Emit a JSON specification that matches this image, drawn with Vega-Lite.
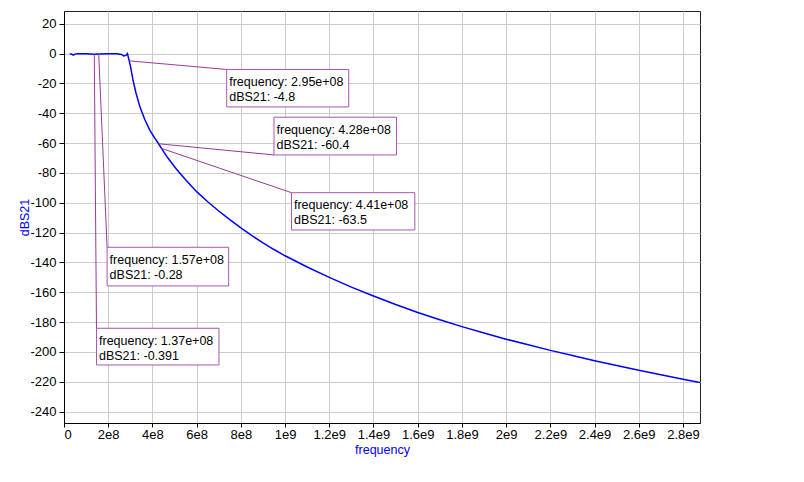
{
  "$schema": "https://vega.github.io/schema/vega-lite/v6.json",
  "width": 636,
  "height": 412,
  "autosize": {"type": "none"},
  "padding": {"left": 64, "top": 11, "right": 104, "bottom": 59},
  "background": "white",
  "config": {
    "font": "Liberation Sans",
    "view": {"stroke": "#222222", "strokeWidth": 1},
    "axis": {
      "labelFont": "Liberation Sans",
      "titleFont": "Liberation Sans",
      "labelFontSize": 13,
      "titleFontSize": 12.5,
      "titleFontWeight": "normal",
      "labelColor": "#000000",
      "titleColor": "#0000ff",
      "domainColor": "#000000",
      "tickColor": "#000000",
      "gridColor": "#cccccc",
      "gridOpacity": 1,
      "gridWidth": 1,
      "labelOverlap": false
    }
  },
  "datasets": {
    "curve": [
      {"frequency": 2.6e7, "dBS21": 0},
      {"frequency": 3.5e7, "dBS21": -0.3},
      {"frequency": 4.2e7, "dBS21": -1.0},
      {"frequency": 5.0e7, "dBS21": -0.3},
      {"frequency": 6.0e7, "dBS21": 0},
      {"frequency": 1.0e8, "dBS21": 0},
      {"frequency": 1.37e8, "dBS21": -0.391},
      {"frequency": 1.57e8, "dBS21": -0.28},
      {"frequency": 2.0e8, "dBS21": 0},
      {"frequency": 2.4e8, "dBS21": 0},
      {"frequency": 2.6e8, "dBS21": -0.5},
      {"frequency": 2.7e8, "dBS21": -1.6},
      {"frequency": 2.8e8, "dBS21": -1.2},
      {"frequency": 2.87e8, "dBS21": 0},
      {"frequency": 2.95e8, "dBS21": -4.8},
      {"frequency": 3.0e8, "dBS21": -8},
      {"frequency": 3.12e8, "dBS21": -17.6},
      {"frequency": 3.25e8, "dBS21": -26},
      {"frequency": 3.43e8, "dBS21": -35.5},
      {"frequency": 3.65e8, "dBS21": -44},
      {"frequency": 3.88e8, "dBS21": -51.2},
      {"frequency": 4.1e8, "dBS21": -56.5},
      {"frequency": 4.28e8, "dBS21": -60.4},
      {"frequency": 4.41e8, "dBS21": -63.5},
      {"frequency": 4.7e8, "dBS21": -70},
      {"frequency": 5.09e8, "dBS21": -77.5},
      {"frequency": 5.5e8, "dBS21": -84.5},
      {"frequency": 6.0e8, "dBS21": -92.5},
      {"frequency": 6.5e8, "dBS21": -99.3},
      {"frequency": 7.0e8, "dBS21": -105.5},
      {"frequency": 7.5e8, "dBS21": -111.3},
      {"frequency": 8.0e8, "dBS21": -116.8},
      {"frequency": 8.5e8, "dBS21": -122},
      {"frequency": 9.0e8, "dBS21": -126.8},
      {"frequency": 9.5e8, "dBS21": -131.3},
      {"frequency": 1.0e9, "dBS21": -135.5},
      {"frequency": 1.1e9, "dBS21": -143},
      {"frequency": 1.2e9, "dBS21": -150},
      {"frequency": 1.3e9, "dBS21": -156.5},
      {"frequency": 1.4e9, "dBS21": -162.5},
      {"frequency": 1.5e9, "dBS21": -168.2},
      {"frequency": 1.6e9, "dBS21": -173.5},
      {"frequency": 1.7e9, "dBS21": -178.4},
      {"frequency": 1.8e9, "dBS21": -183},
      {"frequency": 1.9e9, "dBS21": -187.3},
      {"frequency": 2.0e9, "dBS21": -191.4},
      {"frequency": 2.1e9, "dBS21": -195.2},
      {"frequency": 2.2e9, "dBS21": -198.9},
      {"frequency": 2.3e9, "dBS21": -202.4},
      {"frequency": 2.4e9, "dBS21": -205.8},
      {"frequency": 2.5e9, "dBS21": -209.1},
      {"frequency": 2.6e9, "dBS21": -212.3},
      {"frequency": 2.7e9, "dBS21": -215.3},
      {"frequency": 2.8e9, "dBS21": -218.3},
      {"frequency": 2.877e9, "dBS21": -220.5}
    ],
    "notes": [
      {"f": 2.95e8, "v": -4.8, "lx": 7.36e8, "ly": -10.6, "bx1": 7.36e8, "bx2": 1.288e9, "by1": -10.6, "by2": -35.7, "l1": "frequency: 2.95e+08", "l2": "dBS21: -4.8"},
      {"f": 4.28e8, "v": -60.4, "lx": 9.50e8, "ly": -67.9, "bx1": 9.50e8, "bx2": 1.504e9, "by1": -42.6, "by2": -67.9, "l1": "frequency: 4.28e+08", "l2": "dBS21: -60.4"},
      {"f": 4.41e8, "v": -63.5, "lx": 1.029e9, "ly": -93.2, "bx1": 1.029e9, "bx2": 1.587e9, "by1": -93.2, "by2": -118.2, "l1": "frequency: 4.41e+08", "l2": "dBS21: -63.5"},
      {"f": 1.57e8, "v": -0.28, "lx": 1.95e8, "ly": -129.8, "bx1": 1.95e8, "bx2": 7.45e8, "by1": -129.8, "by2": -155.7, "l1": "frequency: 1.57e+08", "l2": "dBS21: -0.28"},
      {"f": 1.37e8, "v": -0.391, "lx": 1.47e8, "ly": -184.1, "bx1": 1.47e8, "bx2": 7.01e8, "by1": -184.1, "by2": -208.7, "l1": "frequency: 1.37e+08", "l2": "dBS21: -0.391"}
    ]
  },
  "layer": [
    {
      "data": {"name": "curve"},
      "mark": {"type": "line", "color": "#0000ff", "strokeWidth": 1.5, "clip": true},
      "encoding": {
        "x": {
          "field": "frequency", "type": "quantitative",
          "scale": {"domain": [0, 2.877e9], "nice": false, "zero": false},
          "axis": {
            "title": "frequency",
            "values": [0, 2e8, 4e8, 6e8, 8e8, 1e9, 1.2e9, 1.4e9, 1.6e9, 1.8e9, 2e9, 2.2e9, 2.4e9, 2.6e9, 2.8e9],
            "labelExpr": "datum.value == 0 ? '0' : (datum.value < 1e9 ? format(datum.value/1e8, 'd') + 'e8' : format(datum.value/1e9, '~g') + 'e9')",
            "labelOverlap": false, "tickSize": 4, "labelPadding": 1, "titlePadding": 2, "grid": true
          }
        },
        "y": {
          "field": "dBS21", "type": "quantitative",
          "scale": {"domain": [-247.6, 28.6], "nice": false, "zero": false},
          "axis": {
            "title": "dBS21",
            "values": [-240, -220, -200, -180, -160, -140, -120, -100, -80, -60, -40, -20, 0, 20],
            "labelExpr": "'' + datum.value",
            "labelOverlap": false, "tickSize": 5, "labelPadding": 3,
            "titleX": -40, "titleY": 206, "titleAngle": -90, "titleBaseline": "middle", "titleAlign": "center",
            "grid": true
          }
        },
        "order": {"field": "frequency", "type": "quantitative"}
      }
    },
    {
      "data": {"name": "notes"},
      "mark": {"type": "rule", "color": "#9a3a9a", "strokeWidth": 1},
      "encoding": {
        "x": {
          "field": "f", "type": "quantitative",
          "axis": {
            "title": "frequency",
            "values": [0, 2e8, 4e8, 6e8, 8e8, 1e9, 1.2e9, 1.4e9, 1.6e9, 1.8e9, 2e9, 2.2e9, 2.4e9, 2.6e9, 2.8e9],
            "labelExpr": "datum.value == 0 ? '0' : (datum.value < 1e9 ? format(datum.value/1e8, 'd') + 'e8' : format(datum.value/1e9, '~g') + 'e9')",
            "labelOverlap": false, "tickSize": 4, "labelPadding": 1, "titlePadding": 2, "grid": true
          }
        },
        "y": {
          "field": "v", "type": "quantitative",
          "axis": {
            "title": "dBS21",
            "values": [-240, -220, -200, -180, -160, -140, -120, -100, -80, -60, -40, -20, 0, 20],
            "labelExpr": "'' + datum.value",
            "labelOverlap": false, "tickSize": 5, "labelPadding": 3,
            "titleX": -40, "titleY": 206, "titleAngle": -90, "titleBaseline": "middle", "titleAlign": "center",
            "grid": true
          }
        },
        "x2": {"field": "lx"},
        "y2": {"field": "ly"}
      }
    },
    {
      "data": {"name": "notes"},
      "mark": {"type": "rect", "fill": "white", "stroke": "#a855b0", "strokeWidth": 1},
      "encoding": {
        "x": {
          "field": "bx1", "type": "quantitative",
          "axis": {
            "title": "frequency",
            "values": [0, 2e8, 4e8, 6e8, 8e8, 1e9, 1.2e9, 1.4e9, 1.6e9, 1.8e9, 2e9, 2.2e9, 2.4e9, 2.6e9, 2.8e9],
            "labelExpr": "datum.value == 0 ? '0' : (datum.value < 1e9 ? format(datum.value/1e8, 'd') + 'e8' : format(datum.value/1e9, '~g') + 'e9')",
            "labelOverlap": false, "tickSize": 4, "labelPadding": 1, "titlePadding": 2, "grid": true
          }
        },
        "x2": {"field": "bx2"},
        "y": {
          "field": "by1", "type": "quantitative",
          "axis": {
            "title": "dBS21",
            "values": [-240, -220, -200, -180, -160, -140, -120, -100, -80, -60, -40, -20, 0, 20],
            "labelExpr": "'' + datum.value",
            "labelOverlap": false, "tickSize": 5, "labelPadding": 3,
            "titleX": -40, "titleY": 206, "titleAngle": -90, "titleBaseline": "middle", "titleAlign": "center",
            "grid": true
          }
        },
        "y2": {"field": "by2"}
      }
    },
    {
      "data": {"name": "notes"},
      "mark": {"type": "text", "align": "left", "baseline": "middle", "dx": 2.5, "dy": 12.4, "fontSize": 12.5, "font": "Liberation Sans", "color": "#000000"},
      "encoding": {
        "x": {
          "field": "bx1", "type": "quantitative",
          "axis": {
            "title": "frequency",
            "values": [0, 2e8, 4e8, 6e8, 8e8, 1e9, 1.2e9, 1.4e9, 1.6e9, 1.8e9, 2e9, 2.2e9, 2.4e9, 2.6e9, 2.8e9],
            "labelExpr": "datum.value == 0 ? '0' : (datum.value < 1e9 ? format(datum.value/1e8, 'd') + 'e8' : format(datum.value/1e9, '~g') + 'e9')",
            "labelOverlap": false, "tickSize": 4, "labelPadding": 1, "titlePadding": 2, "grid": true
          }
        },
        "y": {
          "field": "by1", "type": "quantitative",
          "axis": {
            "title": "dBS21",
            "values": [-240, -220, -200, -180, -160, -140, -120, -100, -80, -60, -40, -20, 0, 20],
            "labelExpr": "'' + datum.value",
            "labelOverlap": false, "tickSize": 5, "labelPadding": 3,
            "titleX": -40, "titleY": 206, "titleAngle": -90, "titleBaseline": "middle", "titleAlign": "center",
            "grid": true
          }
        },
        "text": {"field": "l1"}
      }
    },
    {
      "data": {"name": "notes"},
      "mark": {"type": "text", "align": "left", "baseline": "middle", "dx": 2.5, "dy": 27.4, "fontSize": 12.5, "font": "Liberation Sans", "color": "#000000"},
      "encoding": {
        "x": {
          "field": "bx1", "type": "quantitative",
          "axis": {
            "title": "frequency",
            "values": [0, 2e8, 4e8, 6e8, 8e8, 1e9, 1.2e9, 1.4e9, 1.6e9, 1.8e9, 2e9, 2.2e9, 2.4e9, 2.6e9, 2.8e9],
            "labelExpr": "datum.value == 0 ? '0' : (datum.value < 1e9 ? format(datum.value/1e8, 'd') + 'e8' : format(datum.value/1e9, '~g') + 'e9')",
            "labelOverlap": false, "tickSize": 4, "labelPadding": 1, "titlePadding": 2, "grid": true
          }
        },
        "y": {
          "field": "by1", "type": "quantitative",
          "axis": {
            "title": "dBS21",
            "values": [-240, -220, -200, -180, -160, -140, -120, -100, -80, -60, -40, -20, 0, 20],
            "labelExpr": "'' + datum.value",
            "labelOverlap": false, "tickSize": 5, "labelPadding": 3,
            "titleX": -40, "titleY": 206, "titleAngle": -90, "titleBaseline": "middle", "titleAlign": "center",
            "grid": true
          }
        },
        "text": {"field": "l2"}
      }
    }
  ]
}
